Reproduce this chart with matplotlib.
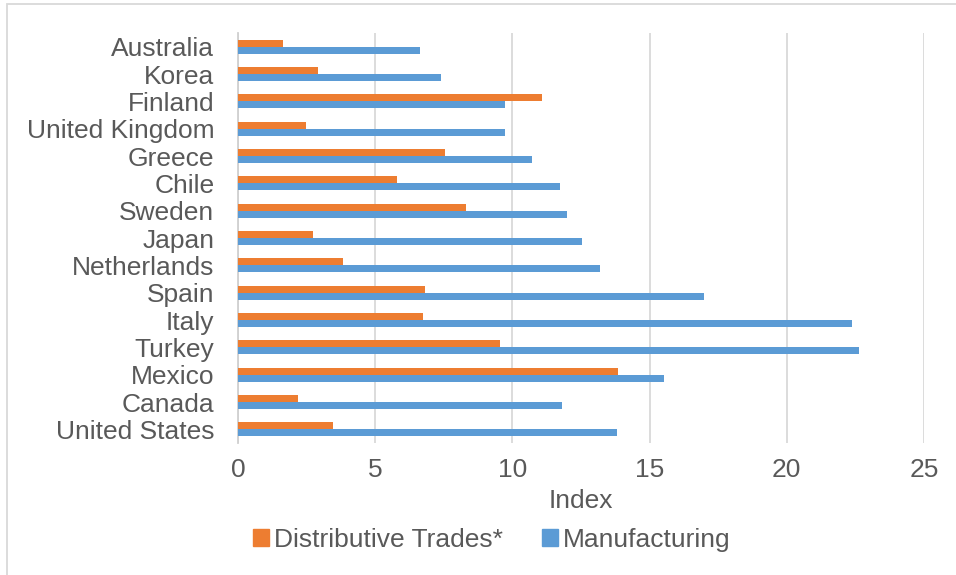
import matplotlib
matplotlib.use("Agg")
import matplotlib.pyplot as plt
from matplotlib.patches import Rectangle, Patch
import numpy as np

plt.rcParams['font.family'] = ['Liberation Sans', 'DejaVu Sans']

countries = ["Australia", "Korea", "Finland", "United Kingdom", "Greece", "Chile",
             "Sweden", "Japan", "Netherlands", "Spain", "Italy", "Turkey",
             "Mexico", "Canada", "United States"]
distributive = [1.65, 2.91, 11.09, 2.47, 7.55, 5.81, 8.30, 2.74, 3.82, 6.82,
                6.74, 9.56, 13.84, 2.19, 3.47]
manufacturing = [6.64, 7.38, 9.73, 9.73, 10.73, 11.73, 12.00, 12.55, 13.18, 16.98,
                 22.36, 22.63, 15.54, 11.81, 13.82]
xticks = [0, 5, 10, 15, 20, 25]

W, H = 956, 575
FS = 19
TXT = "#595959"
fig = plt.figure(figsize=(W / 100, H / 100), dpi=100)
ax = fig.add_axes([238 / W, 1 - 443 / H, (924 - 238) / W, (443 - 33) / H])

y = np.arange(len(countries))
h = 0.26
ax.barh(y - h / 2, distributive, height=h, color="#ED7D31", label="Distributive Trades*", zorder=3)
ax.barh(y + h / 2, manufacturing, height=h, color="#5B9BD5", label="Manufacturing", zorder=3)

ax.set_ylim(len(countries) - 0.5, -0.5)
ax.set_xlim(0, 25)
ax.set_yticks(y)
ax.set_yticklabels(countries, fontsize=FS, color=TXT)
ax.set_xticks(xticks)
ax.set_xticklabels([str(t) for t in xticks], fontsize=FS, color=TXT)
ax.tick_params(axis='both', length=0)
ax.tick_params(axis='x', pad=11)
ax.tick_params(axis='y', pad=17)
ax.grid(axis='x', color="#d9d9d9", linewidth=1.3, zorder=0)
for s in ["top", "right", "bottom"]:
    ax.spines[s].set_visible(False)
ax.spines["left"].set_color("#d0d0d0")
ax.spines["left"].set_linewidth(1.3)
ax.set_xlabel("Index", fontsize=FS, color=TXT, labelpad=5)

handles = [Patch(color="#ED7D31", label="Distributive Trades*"),
           Patch(color="#5B9BD5", label="Manufacturing")]
fig.legend(handles=handles, loc="center", bbox_to_anchor=(492 / W, 1 - 540 / H),
           ncol=2, frameon=False, fontsize=FS, handlelength=0.58, handleheight=0.58,
           handletextpad=0.2, columnspacing=1.5, labelcolor=TXT)

fig.patches.append(Rectangle((7 / W, -0.01), 1.0, 1 - 4 / H + 0.01,
                             transform=fig.transFigure, fill=False,
                             edgecolor="#d9d9d9", linewidth=1.3))

fig.savefig("out.png", dpi=100)
